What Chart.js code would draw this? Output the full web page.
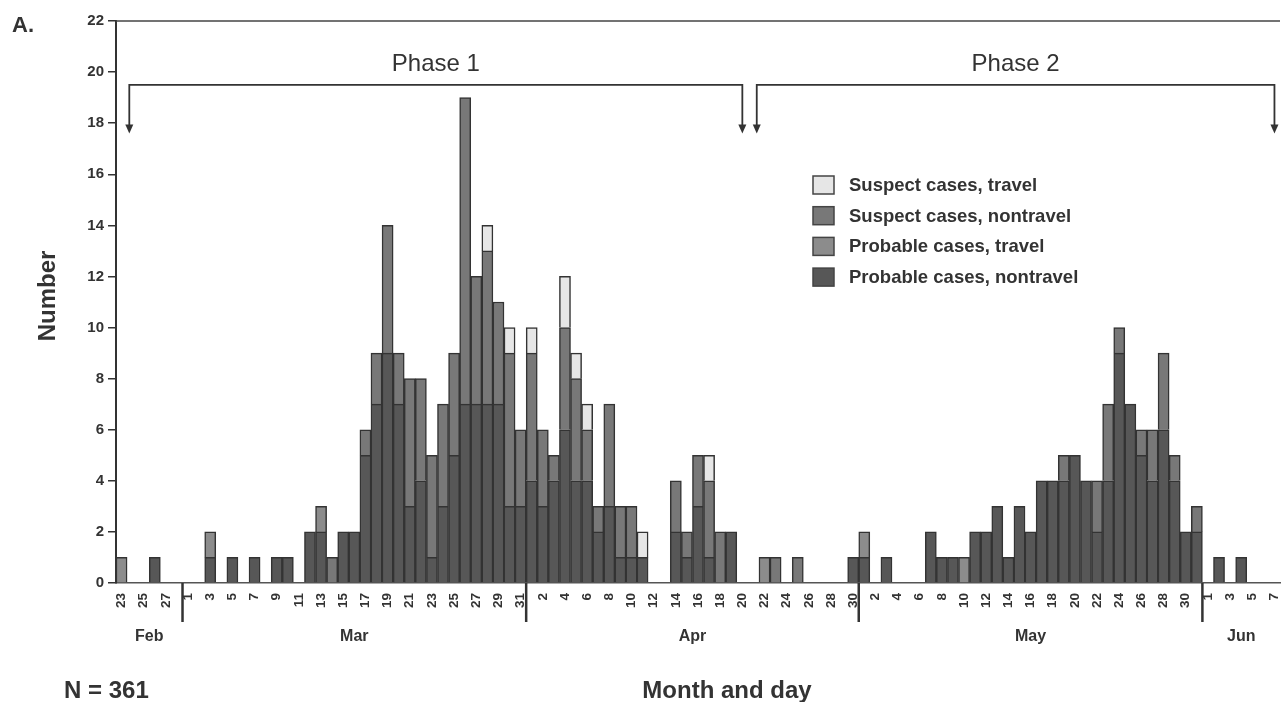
<!DOCTYPE html>
<html>
<head>
<meta charset="utf-8">
<script src="https://cdn.jsdelivr.net/npm/chart.js@4.4.1/dist/chart.umd.min.js"></script>
<style>
  html, body { margin: 0; padding: 0; background: #fff; }
</style>
</head>
<body>
<canvas id="caseChart" width="1281" height="702"></canvas>
<script>
// Daily cases by date of onset, Feb 23 - Jun 7
const days = [
    23, 24, 25, 26, 27, 28,
    1, 2, 3, 4, 5, 6, 7, 8, 9, 10, 11, 12, 13, 14, 15, 16, 17, 18, 19, 20, 21, 22, 23, 24, 25, 26, 27, 28, 29, 30, 31,
    1, 2, 3, 4, 5, 6, 7, 8, 9, 10, 11, 12, 13, 14, 15, 16, 17, 18, 19, 20, 21, 22, 23, 24, 25, 26, 27, 28, 29, 30,
    1, 2, 3, 4, 5, 6, 7, 8, 9, 10, 11, 12, 13, 14, 15, 16, 17, 18, 19, 20, 21, 22, 23, 24, 25, 26, 27, 28, 29, 30, 31,
    1, 2, 3, 4, 5, 6, 7
];
const monthNames = ['Feb', 'Mar', 'Apr', 'May', 'Jun'];

const probableNontravel = [
    0, 0, 0, 1, 0, 0,
    0, 0, 1, 0, 1, 0, 1, 0, 1, 1,  0, 2, 2, 0, 2, 2, 5, 7, 9, 7,  3, 4, 1, 3, 5, 7, 7, 7, 7, 3, 3,
    4, 3, 4, 6, 4, 4, 2, 3, 1, 1,  1, 0, 0, 2, 1, 3, 1, 0, 2, 0,  0, 0, 0, 0, 0, 0, 0, 0, 0, 1,
    1, 0, 1, 0, 0, 0, 2, 1, 1, 0,  2, 2, 3, 1, 3, 2, 4, 4, 4, 5,  4, 2, 4, 9, 7, 5, 4, 6, 4, 2, 2,
    0, 1, 0, 1, 0, 0, 0
];
const probableTravel = [
    1, 0, 0, 0, 0, 0,
    0, 0, 1, 0, 0, 0, 0, 0, 0, 0,  0, 0, 1, 0, 0, 0, 0, 0, 0, 0,  0, 0, 0, 0, 0, 0, 0, 0, 0, 0, 0,
    0, 0, 0, 0, 0, 0, 0, 0, 0, 0,  0, 0, 0, 0, 0, 0, 0, 0, 0, 0,  0, 1, 0, 0, 0, 0, 0, 0, 0, 0,
    1, 0, 0, 0, 0, 0, 0, 0, 0, 1,  0, 0, 0, 0, 0, 0, 0, 0, 0, 0,  0, 0, 0, 0, 0, 0, 0, 0, 0, 0, 0,
    0, 0, 0, 0, 0, 0, 0
];
const suspectNontravel = [
    0, 0, 0, 0, 0, 0,
    0, 0, 0, 0, 0, 0, 0, 0, 0, 0,  0, 0, 0, 1, 0, 0, 1, 2, 5, 2,  5, 4, 4, 4, 4, 12, 5, 6, 4, 6, 3,
    5, 3, 1, 4, 4, 2, 1, 4, 2, 2,  0, 0, 0, 2, 1, 2, 3, 2, 0, 0,  0, 0, 1, 0, 1, 0, 0, 0, 0, 0,
    0, 0, 0, 0, 0, 0, 0, 0, 0, 0,  0, 0, 0, 0, 0, 0, 0, 0, 1, 0,  0, 2, 3, 1, 0, 1, 2, 3, 1, 0, 1,
    0, 0, 0, 0, 0, 0, 0
];
const suspectTravel = [
    0, 0, 0, 0, 0, 0,
    0, 0, 0, 0, 0, 0, 0, 0, 0, 0,  0, 0, 0, 0, 0, 0, 0, 0, 0, 0,  0, 0, 0, 0, 0, 0, 0, 1, 0, 1, 0,
    1, 0, 0, 2, 1, 1, 0, 0, 0, 0,  1, 0, 0, 0, 0, 0, 1, 0, 0, 0,  0, 0, 0, 0, 0, 0, 0, 0, 0, 0,
    0, 0, 0, 0, 0, 0, 0, 0, 0, 0,  0, 0, 0, 0, 0, 0, 0, 0, 0, 0,  0, 0, 0, 0, 0, 0, 0, 0, 0, 0, 0,
    0, 0, 0, 0, 0, 0, 0
];

// Phase brackets, given as category index range
const phases = [
    { label: 'Phase 1', from: 0.7, to: 56 },
    { label: 'Phase 2', from: 57.3, to: 104 }
];

const FONT = "'Liberation Sans', Arial, sans-serif";
const INK = '#333';

// first index of every month, found where the day number drops
const monthStart = days.reduce((acc, d, i) => {
    if (i === 0 || d < days[i - 1]) acc.push(i);
    return acc;
}, []);

const decorations = {
    id: 'decorations',
    afterDraw(chart) {
        const { ctx, chartArea: area, scales: { x, y } } = chart;
        ctx.save();

        // top frame line
        ctx.strokeStyle = '#444';
        ctx.lineWidth = 1.5;
        ctx.beginPath();
        ctx.moveTo(area.left, area.top);
        ctx.lineTo(area.right, area.top);
        ctx.stroke();

        // month separators + month names
        const half = (x.getPixelForValue(1) - x.getPixelForValue(0)) / 2;
        ctx.fillStyle = INK;
        ctx.font = 'bold 16px ' + FONT;
        ctx.textAlign = 'center';
        ctx.textBaseline = 'middle';
        monthStart.forEach((start, m) => {
            const end = m + 1 < monthStart.length ? monthStart[m + 1] - 1 : days.length - 1;
            const left = x.getPixelForValue(start) - half;
            const right = Math.min(x.getPixelForValue(end) + half, area.right);
            if (m > 0) {
                ctx.strokeStyle = INK;
                ctx.lineWidth = 2.5;
                ctx.beginPath();
                ctx.moveTo(left, area.bottom);
                ctx.lineTo(left, area.bottom + 39);
                ctx.stroke();
            }
            ctx.fillText(monthNames[m], (left + right) / 2, area.bottom + 54);
        });

        // phase brackets
        const yLine = y.getPixelForValue(19.5);
        const yTip = y.getPixelForValue(17.6);
        ctx.strokeStyle = INK;
        ctx.lineWidth = 1.8;
        ctx.font = '24px ' + FONT;
        phases.forEach(p => {
            const x0 = x.getPixelForValue(p.from);
            const x1 = x.getPixelForValue(p.to);
            ctx.beginPath();
            ctx.moveTo(x0, yTip - 6);
            ctx.lineTo(x0, yLine);
            ctx.lineTo(x1, yLine);
            ctx.lineTo(x1, yTip - 6);
            ctx.stroke();
            [x0, x1].forEach(xx => {
                ctx.beginPath();
                ctx.moveTo(xx - 4, yTip - 9);
                ctx.lineTo(xx + 4, yTip - 9);
                ctx.lineTo(xx, yTip);
                ctx.closePath();
                ctx.fill();
            });
            ctx.fillText(p.label, (x0 + x1) / 2, y.getPixelForValue(20.3));
        });

        // legend, top entry = top of stack
        ctx.font = 'bold 18.5px ' + FONT;
        ctx.textAlign = 'left';
        const sets = chart.data.datasets.slice().reverse();
        sets.forEach((ds, i) => {
            const cy = 185 + i * 30.7;
            ctx.fillStyle = ds.backgroundColor;
            ctx.fillRect(813, cy - 9, 21, 18);
            ctx.strokeStyle = '#444';
            ctx.lineWidth = 1.5;
            ctx.strokeRect(813, cy - 9, 21, 18);
            ctx.fillStyle = INK;
            ctx.fillText(ds.label, 849, cy + 1);
        });

        // titles
        ctx.font = 'bold 22px ' + FONT;
        ctx.textAlign = 'left';
        ctx.fillText('A.', 12, 26);
        ctx.font = 'bold 24px ' + FONT;
        ctx.fillText('N = 361', 64, 691);
        ctx.textAlign = 'center';
        ctx.fillText('Month and day', 727, 691);
        ctx.translate(48, 296);
        ctx.rotate(-Math.PI / 2);
        ctx.fillText('Number', 0, 0);

        ctx.restore();
    }
};

const ctx = document.getElementById('caseChart').getContext('2d');
const chart = new Chart(ctx, {
    type: 'bar',
    data: {
        labels: days,
        datasets: [
            { label: 'Probable cases, nontravel', data: probableNontravel, backgroundColor: '#575757' },
            { label: 'Probable cases, travel', data: probableTravel, backgroundColor: '#8c8c8c' },
            { label: 'Suspect cases, nontravel', data: suspectNontravel, backgroundColor: '#787878' },
            { label: 'Suspect cases, travel', data: suspectTravel, backgroundColor: '#e6e6e6' }
        ].map(ds => Object.assign(ds, {
            borderColor: '#333',
            borderWidth: 1.5,
            barPercentage: 1,
            categoryPercentage: 1
        }))
    },
    options: {
        responsive: false,
        animation: false,
        layout: { padding: { left: 0, right: 1, top: 21, bottom: 0 } },
        plugins: {
            legend: { display: false },
            tooltip: { enabled: false }
        },
        scales: {
            x: {
                stacked: true,
                grid: { display: false, drawTicks: false },
                border: { display: true, color: '#555', width: 1.5 },
                ticks: {
                    autoSkip: false,
                    maxRotation: 90,
                    minRotation: 90,
                    padding: 10,
                    color: INK,
                    font: { family: FONT, size: 13.5, weight: 'bold' },
                    callback: (value, index) => index % 2 === 0 ? String(days[index]) : ''
                },
                afterFit: scale => {
                    scale.height = 119;
                    scale.paddingLeft = 0;
                    scale.paddingRight = 0;
                }
            },
            y: {
                stacked: true,
                min: 0,
                max: 22,
                grid: { drawOnChartArea: false, drawTicks: true, tickLength: 8, color: INK, lineWidth: 1.5 },
                border: { display: true, color: INK, width: 2 },
                ticks: {
                    stepSize: 2,
                    padding: 4,
                    color: INK,
                    font: { family: FONT, size: 15, weight: 'bold' }
                },
                afterFit: scale => { scale.width = 116; }
            }
        }
    },
    plugins: [decorations]
});
</script>
</body>
</html>
